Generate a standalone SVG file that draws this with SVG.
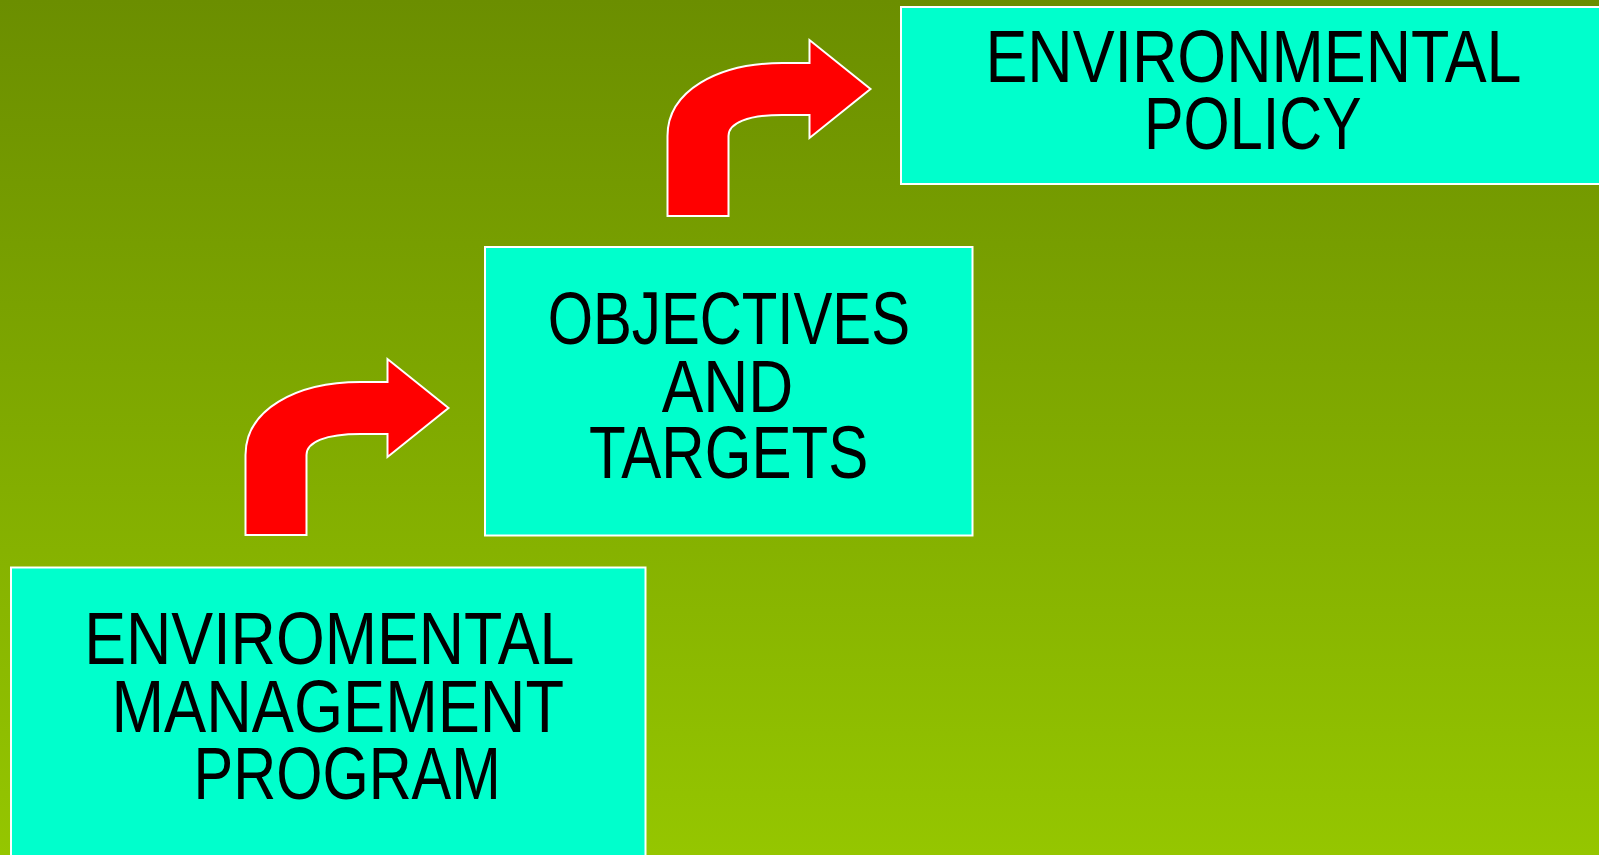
<svg xmlns="http://www.w3.org/2000/svg" xmlns:xlink="http://www.w3.org/1999/xlink" width="1599" height="855" viewBox="0 0 1599 855">
<style>
.box{fill:#00FFCC;stroke:#FFFFFF;stroke-width:2}
.lbl{font-family:"Liberation Sans Narrow","Liberation Sans",Arial,sans-serif;font-size:74px;fill:#000000}
.arrow{fill:#FF0000;stroke:#FFFFFF;stroke-width:2;stroke-linejoin:miter}
</style>
<defs>
<linearGradient id="bg" x1="0" y1="0" x2="0" y2="1">
<stop offset="0" stop-color="#6B8E00"/>
<stop offset="0.5" stop-color="#80AA00"/>
<stop offset="1" stop-color="#95C600"/>
</linearGradient>
<path id="bent" d="M0 0 V-80 C0 -125 50 -153 115 -153 H142 V-176 L203 -127 L142 -78 V-101 H115 C80 -101 61 -93 61 -80 V0 Z"/>
</defs>
<rect x="0" y="0" width="1599" height="855" fill="url(#bg)"/>
<g id="connectors">
<use xlink:href="#bent" class="arrow" transform="translate(245.5,535)"/>
<use xlink:href="#bent" class="arrow" transform="translate(667.5,216)"/>
</g>
<g id="node-policy">
<rect class="box" x="901" y="7" width="720" height="177"/>
<text class="lbl" x="985.5" y="81.7" textLength="536" lengthAdjust="spacingAndGlyphs">ENVIRONMENTAL</text>
<text class="lbl" x="1144" y="149.3" textLength="217.6" lengthAdjust="spacingAndGlyphs">POLICY</text>
</g>
<g id="node-objectives">
<rect class="box" x="485" y="247" width="487.5" height="288.5"/>
<text class="lbl" x="547.7" y="344.3" textLength="362.3" lengthAdjust="spacingAndGlyphs">OBJECTIVES</text>
<text class="lbl" x="661.7" y="411.7" textLength="131.6" lengthAdjust="spacingAndGlyphs">AND</text>
<text class="lbl" x="589" y="478.3" textLength="279.3" lengthAdjust="spacingAndGlyphs">TARGETS</text>
</g>
<g id="node-program">
<rect class="box" x="11" y="567.5" width="634.5" height="310"/>
<text class="lbl" x="84.2" y="664.3" textLength="490.3" lengthAdjust="spacingAndGlyphs">ENVIROMENTAL</text>
<text class="lbl" x="111.5" y="732.3" textLength="452.5" lengthAdjust="spacingAndGlyphs">MANAGEMENT</text>
<text class="lbl" x="193.6" y="799" textLength="307.2" lengthAdjust="spacingAndGlyphs">PROGRAM</text>
</g>
</svg>
